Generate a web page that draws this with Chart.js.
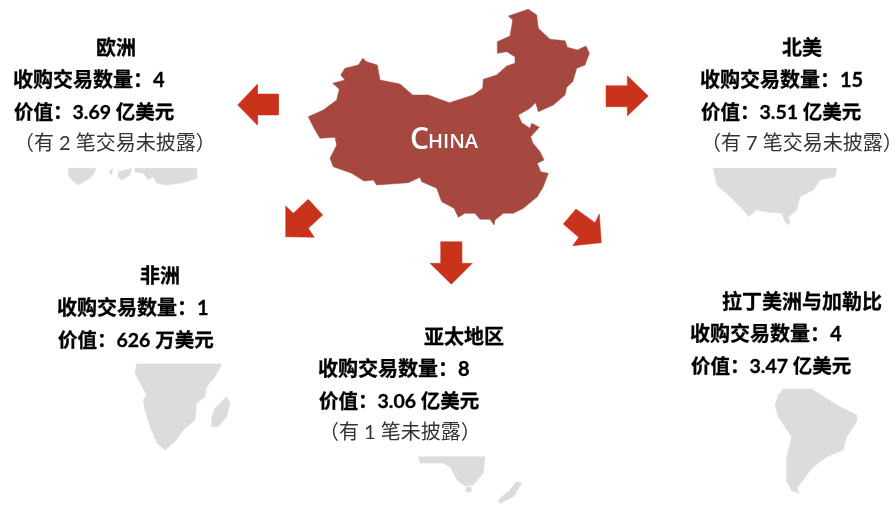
<!DOCTYPE html>
<html>
<head>
<meta charset="utf-8">
<script src="https://cdn.jsdelivr.net/npm/chart.js@4"></script>
<style>
  body { margin: 0; background: #fff; }
  canvas { display: block; }
</style>
</head>
<body>
<canvas id="myChart" width="895" height="506"></canvas>
<script>
// Texte des régions
const regions = ["欧洲", "北美", "非洲", "亚太地区", "拉丁美洲与加勒比"];
const dealCounts = ["4", "15", "1", "8", "4"];
const dealValues = ["3.69 亿美元", "3.51 亿美元", "626 万美元", "3.06 亿美元", "3.47 亿美元"];
const undisclosedNotes = ["（有 2 笔交易未披露）", "（有 7 笔交易未披露）", "", "（有 1 笔未披露）", ""];

// Contours, [x, y]
const chinaShape = [[508.3,16],[528.3,9.3],[536.7,15],[538.3,28.3],[550,39.3],[565,40.7],[567.3,47.3],[577.3,50],[586,46],[589.3,53.3],[585,65],[576.7,68.3],[572.7,81.7],[566.7,87.3],[565,95],[553.3,105],[538.3,111.7],[535.7,102.7],[530,108.3],[518.3,115],[521.7,122.7],[530,128.3],[531.7,123.3],[539.3,127.3],[530.7,136.7],[532.7,142.7],[540,151.7],[544,160],[537.3,163.3],[540.7,171.7],[548.3,173.3],[543.3,186.7],[537.3,196.7],[523.3,208.3],[513.3,213.3],[503.3,213.3],[495,220],[494,225],[490,219.3],[480,219.3],[475,213.3],[465,213.3],[458.3,217.3],[454,208.3],[441.7,201.7],[436.7,188.3],[421.7,181.7],[420,177.3],[408.3,182.7],[376.7,185],[373.3,180],[364,181],[351.7,173.3],[333.3,166.7],[330,158.3],[336.7,145],[335,137.3],[320,138.3],[314,128.3],[308.3,116.7],[323.3,110],[336.7,100],[339.3,89.3],[332.7,83.3],[345,80],[340.7,75],[345,68.3],[358.3,65],[362.7,58.3],[366.7,61.7],[377.3,65],[380,80],[400,84],[412.7,95],[428.3,95],[449.3,102.7],[473.3,95],[482.7,88.3],[483.3,79.3],[496.7,75],[506.7,66],[515,63.3],[515,56.7],[506.7,51.7],[497.3,53.3],[497.3,41.7],[510,36],[512.7,20]];

const arrowLeft = [[237.7,105],[257.3,84.3],[257.3,94],[278.3,94],[278.3,115],[257.3,115],[257.3,125]];
const arrowRight = [[606,85.7],[627.3,85.7],[627.3,75.7],[648.3,96],[627.3,116],[627.3,106.7],[606,106.7]];
const arrowDown = [[440.7,241.7],[461.7,241.7],[461.7,263.3],[472.3,263.3],[451.3,284.3],[430,263.3],[440.7,263.3]];
const arrowSouthWest = [[285.7,206],[293.3,213.3],[308.3,199.3],[322.7,215],[308.3,228.3],[314.3,237.3],[285,236.7]];
const arrowSouthEast = [[576,209],[595,222.7],[599.3,214],[601.3,242.7],[572.7,245.7],[578.7,237.3],[563.3,224]];

const europeShapes = [
  [[68.3,168.3],[96,168.3],[93.3,175],[86.7,180],[78.3,185],[71.7,180],[68.3,175]],
  [[108.3,171.7],[112.7,168.3],[111.7,175]],
  [[118.3,171.7],[131.7,168.3],[130,175],[121.7,180],[118.3,176.7]],
  [[135,168.3],[196.7,168.3],[196.7,178.3],[183.3,182.7],[166.7,185],[156.7,183.3],[153.3,176.7],[148.3,180],[143.3,173.3],[135,171.7]]
];
const northAmericaShape = [[713.3,168.3],[836.7,168.3],[835,176.7],[820,180],[813.3,190],[800,196.7],[796.7,210],[788.3,216.7],[790,225],[785,221.7],[781.7,213.3],[765,211.7],[756.7,210],[748.3,216.7],[743.3,210],[730,196.7],[716.7,185]];
const greatLakesShape = [[775,173],[783,178],[790,176],[795,185],[785,183],[778,187]];
const africaShape = [[136.7,364],[221.7,364],[215,376.7],[206.7,386.7],[205,396.7],[196.7,403.3],[195,420],[183.3,430],[175,441.7],[165,450],[157.3,443.3],[150,426.7],[145,410],[143.3,400],[146.7,395],[140,383.3],[135,373.3]];
const madagascarShape = [[226.7,396.7],[230,403.3],[226.7,416.7],[218.3,426.7],[211.7,426.7],[211.7,416.7],[215,408.3]];
const australiaShape = [[418.3,456.7],[485,456.7],[483.3,473],[473.3,485],[465,486],[457,480],[450,466.7],[443,463],[420,463]];
const tasmaniaShape = [[466,487],[471,487],[471,492],[467,492]];
const newZealandShape = [[516.7,481.7],[521.7,483.3],[513.3,496.7],[500,503.3],[498.3,500],[510,490]];
const latinAmericaShape = [[783.3,389],[811.7,389],[836.7,405],[856.7,415],[856.7,421.7],[846.7,436.7],[843.3,450],[826.7,456.7],[811.7,468.3],[803.3,480],[796.7,488.3],[799.3,493.3],[791.7,490.7],[786,480],[786.7,456.7],[791.7,436.7],[778.3,416.7],[775,405],[778.3,395]];

const greyShapes = [...europeShapes, northAmericaShape, africaShape, madagascarShape, australiaShape, tasmaniaShape, newZealandShape, latinAmericaShape];
const redArrows = [arrowLeft, arrowRight, arrowDown, arrowSouthWest, arrowSouthEast];

// Position des blocs de texte
const textBlocks = [
  { titleX: 116, x: 13, y: 49, noteX: 14 },
  { titleX: 802, x: 700, y: 49, noteX: 701 },
  { titleX: 160, x: 57, y: 277, noteX: 58 },
  { titleX: 464, x: 318, y: 338, noteX: 319 },
  { titleX: 802, x: 690, y: 303, noteX: 691 }
];
const LINE_GAP = 32;
const CJK = '"Noto Sans CJK SC"';

function shapeDataset(shape, color) {
  return {
    data: [...shape, shape[0]].map(p => ({ x: p[0], y: p[1] })),
    showLine: true,
    fill: "shape",
    backgroundColor: color,
    borderColor: color,
    borderWidth: 0.5,
    pointRadius: 0,
    tension: 0
  };
}

const textPlugin = {
  id: "textes",
  afterDatasetsDraw(chart) {
    const { ctx, scales } = chart;
    const px = v => scales.x.getPixelForValue(v);
    const py = v => scales.y.getPixelForValue(v);
    // texte gras un peu plus épais, comme l'original
    const boldText = (txt, x, y) => {
      ctx.fillText(txt, x, y);
      ctx.strokeText(txt, x, y);
    };

    ctx.save();
    ctx.textBaseline = "middle";
    ctx.fillStyle = "#000";
    ctx.strokeStyle = "#000";
    ctx.lineWidth = 0.3;
    textBlocks.forEach((b, i) => {
      ctx.font = `bold 20px Lato, ${CJK}`;
      ctx.textAlign = "center";
      boldText(regions[i], px(b.titleX), py(b.y));
      ctx.textAlign = "left";
      boldText(`收购交易数量：${dealCounts[i]}`, px(b.x), py(b.y + LINE_GAP));
      ctx.font = `bold 19.5px Lato, ${CJK}`;
      boldText(`价值：${dealValues[i]}`, px(b.x + 1), py(b.y + LINE_GAP * 2));
      if (undisclosedNotes[i]) {
        ctx.font = `20px Lato, ${CJK}`;
        ctx.fillStyle = "#333";
        ctx.fillText(undisclosedNotes[i], px(b.noteX), py(b.y + LINE_GAP * 3 - 1));
        ctx.fillStyle = "#000";
      }
    });

    // Libellé sur la carte
    ctx.fillStyle = "#fff";
    ctx.font = '600 30px "Open Sans"';
    ctx.fillText("C", px(410), py(140));
    ctx.font = '600 20px "Open Sans"';
    ctx.fillText("HINA", px(428), py(142));
    ctx.restore();
  }
};

const datasets = [
  ...greyShapes.map(s => shapeDataset(s, "#dcdcdc")),
  shapeDataset(greatLakesShape, "#ffffff"),
  shapeDataset(chinaShape, "#a64840"),
  ...redArrows.map(s => shapeDataset(s, "#c9321b"))
];

new Chart(document.getElementById("myChart"), {
  type: "scatter",
  data: { datasets },
  options: {
    responsive: false,
    animation: false,
    layout: { padding: 0 },
    plugins: { legend: { display: false }, tooltip: { enabled: false } },
    scales: {
      x: { type: "linear", min: 0, max: 895, display: false },
      y: { type: "linear", min: 0, max: 506, reverse: true, display: false }
    }
  },
  plugins: [textPlugin]
});
</script>
</body>
</html>
